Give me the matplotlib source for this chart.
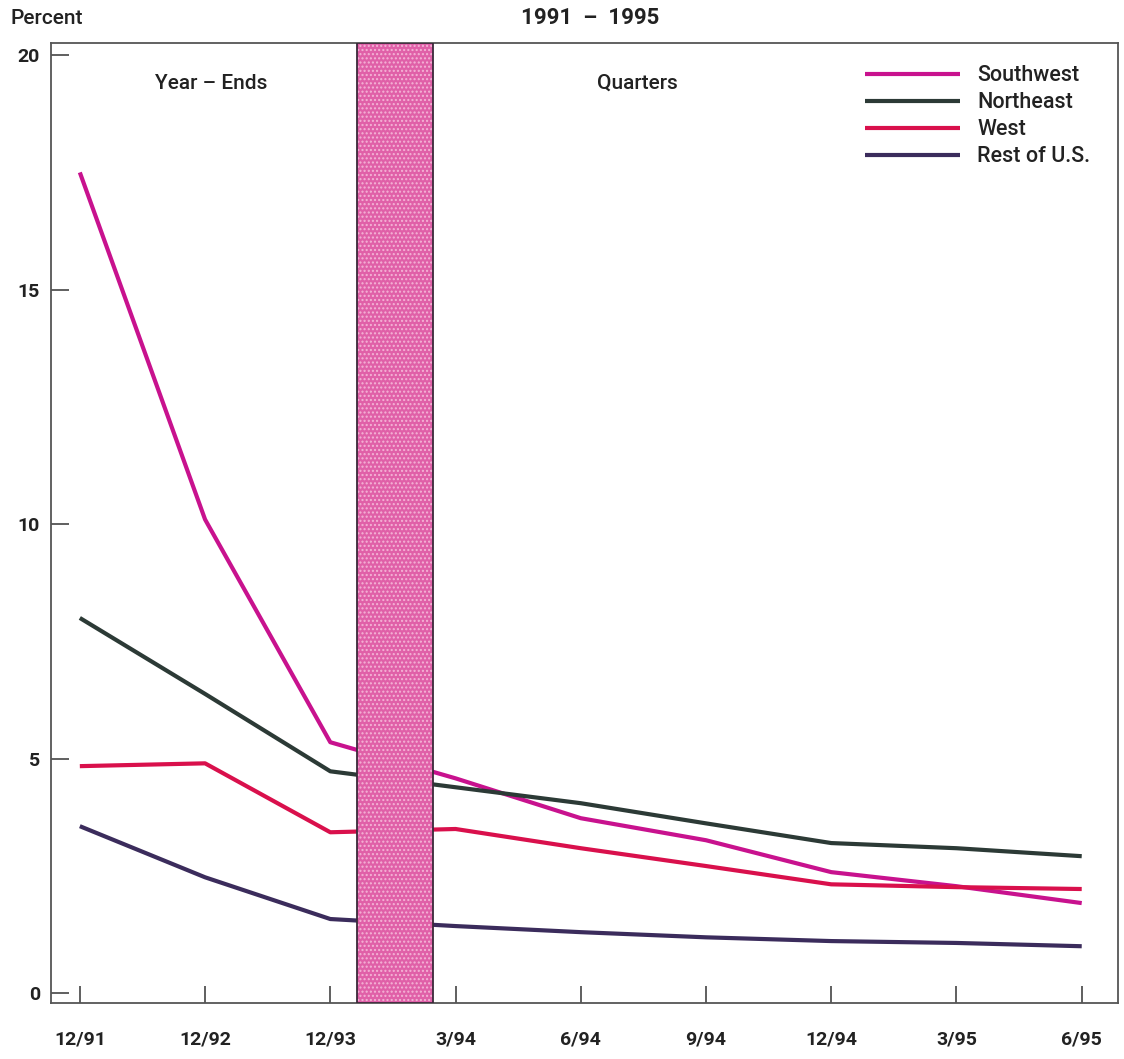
import numpy as np
import matplotlib.pyplot as plt

plt.rcParams['font.family'] = ['Roboto', 'Liberation Sans', 'DejaVu Sans']
plt.rcParams['font.weight'] = 'medium'

# data
periods = ['12/91', '12/92', '12/93', '3/94', '6/94', '9/94', '12/94', '3/95', '6/95']
southwest = [17.5, 10.1, 5.35, 4.58, 3.73, 3.26, 2.58, 2.28, 1.92]
northeast = [8.0, 6.38, 4.73, 4.39, 4.05, 3.62, 3.2, 3.09, 2.92]
west = [4.84, 4.9, 3.43, 3.5, 3.09, 2.71, 2.32, 2.26, 2.22]
rest_us = [3.56, 2.47, 1.58, 1.43, 1.3, 1.19, 1.11, 1.07, 1.0]

series = [('Southwest', southwest, '#c8128e'),
          ('Northeast', northeast, '#2c3a36'),
          ('West', west, '#d9104c'),
          ('Rest of U.S.', rest_us, '#3b2c5c')]

fig = plt.figure(figsize=(11.24, 10.59), dpi=100)
ax = fig.add_axes([0.0454, 0.0529, 0.9493, 0.9065])

x = np.arange(len(periods))
for name, vals, col in series:
    ax.plot(x, vals, color=col, lw=3.0, label=name, solid_capstyle='butt', zorder=3)

# shaded break between year-ends and quarters (speckled pink)
ax.axvspan(2.21, 2.82, facecolor='#e060a8', edgecolor='#f4b4d6', lw=0,
           hatch='....', zorder=4)
ax.axvspan(2.21, 2.82, facecolor='none', edgecolor='#3a2a3a', lw=1.3, zorder=5)

ax.set_xlim(-0.23, 8.29)
ax.set_ylim(-0.21, 20.26)
ax.set_xticks(x)
ax.set_xticklabels(periods, fontsize=14, fontweight='bold', color='#222222')
ax.set_yticks([0, 5, 10, 15, 20])
ax.tick_params(axis='x', direction='in', length=12, width=1.2, pad=20, color='#444444')
ax.tick_params(axis='y', direction='in', length=13, width=1.2, pad=8, color='#444444',
               labelsize=14)
for lbl in ax.get_yticklabels():
    lbl.set_fontweight('bold')
    lbl.set_color('#222222')
for sp in ax.spines.values():
    sp.set_color('#555555')
    sp.set_linewidth(1.3)

ax.text(1.05, 19.4, 'Year \u2013 Ends', fontsize=15, ha='center', va='center', color='#222222')
ax.text(4.45, 19.4, 'Quarters', fontsize=15, ha='center', va='center', color='#222222')

fig.text(0.009, 0.983, 'Percent', fontsize=15, ha='left', va='center', color='#222222')
fig.text(0.525, 0.983, '1991  \u2013  1995', fontsize=16, fontweight='bold',
         ha='center', va='center', color='#222222')

leg = ax.legend(loc='upper right', bbox_to_anchor=(0.992, 0.997), frameon=False,
                fontsize=15.5, handlelength=4.4, handletextpad=0.8, labelspacing=0.28)
for t in leg.get_texts():
    t.set_color('#222222')

fig.savefig('out.png', dpi=100)
